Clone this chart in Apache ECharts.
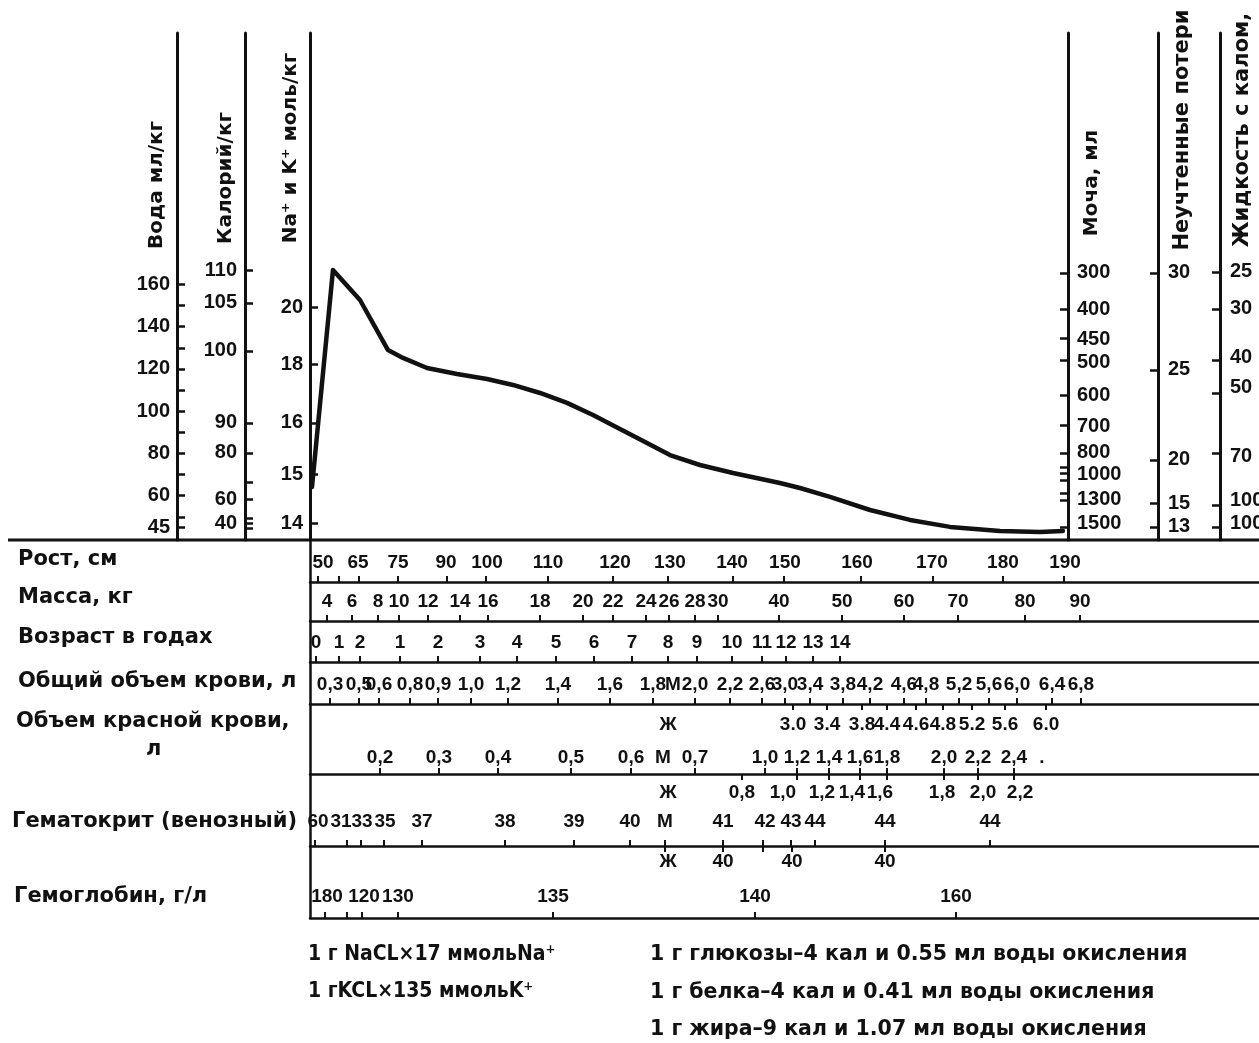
<!DOCTYPE html>
<html>
<head>
<meta charset="utf-8">
<script src="https://cdn.jsdelivr.net/npm/echarts@6/dist/echarts.min.js"></script>
<style>
  html, body { margin: 0; padding: 0; background: #fff; }
  #chart { width: 1259px; height: 1043px; }
</style>
</head>
<body>
<div id="chart"></div>
<script>
// ---------------- DATA ----------------
// Upper panel: reference linear scale "Вода мл/кг"
const waterLabels = [160, 140, 120, 100, 80, 60, 45];
const waterTicks = [160, 150, 140, 130, 120, 110, 100, 90, 80, 70, 60, 50, 45];

// Other vertical scales, each value given by its reading on the Вода scale
const calorieLabels = ['110', '105', '100', '90', '80', '60', '40'];
const calorieAtWater = [166.8, 151.2, 128.5, 94.4, 80.2, 58.4, 47.0];
const calorieMinorAtWater = [66.5, 49.4, 44.7];

const naLabels = ['20', '18', '16', '15', '14'];
const naAtWater = [149.3, 122.3, 94.4, 70.2, 47.0];

const urineLabels = ['300', '400', '450', '500', '600', '700', '800', '1000', '1300', '1500'];
const urineLabelAtWater = [165.4, 148.3, 134.1, 122.8, 107.6, 92.5, 80.2, 69.8, 58.4, 46.6];
const urineTickAtWater = [165.4, 148.3, 134.6, 124.2, 107.6, 93.4, 80.2, 73.6, 70.7, 67.4, 61.2, 57.9, 45.2];

const lossLabels = ['30', '25', '20', '15', '13'];
const lossAtWater = [165.4, 119.5, 76.9, 56.5, 45.2];

const stoolLabels = ['25', '30', '40', '50', '70', '100', '100'];
const stoolLabelAtWater = [165.9, 148.8, 125.2, 111.0, 78.3, 57.9, 47.0];
const stoolTickAtWater = [165.9, 148.3, 124.2, 108.6, 80.2, 55.6, 45.2];

// Curve: abscissa position (% of scale width) and reading on the Вода scale
const curveX = [0.21, 2.42, 5.27, 8.22, 9.80, 12.33, 15.49, 18.65, 21.39, 24.24, 27.08, 29.82, 32.66,
                35.51, 37.93, 41.09, 44.57, 49.52, 51.63, 54.79, 59.01, 63.22, 67.44, 72.71, 76.92, 79.34];
const curveY = [64.1, 166.8, 152.6, 128.9, 125.2, 120.4, 117.6, 115.2, 112.4, 108.6, 103.9, 98.2, 91.5,
                84.9, 79.2, 74.5, 70.7, 66.0, 63.6, 59.4, 53.2, 48.5, 45.2, 43.3, 42.8, 43.3];

// Horizontal scales (positions in % of scale width)
const heightLabels = ['50', '65', '75', '90', '100', '110', '120', '130', '140', '150', '160', '170', '180', '190'];
const heightLabelPos = [1.37, 5.06, 9.27, 14.33, 18.65, 25.08, 32.14, 37.93, 44.47, 50.05, 57.64, 65.54, 73.02, 79.56];
const heightTickPos = [0.84, 3.06, 5.16, 9.27, 14.44, 18.55, 25.08, 31.93, 37.72, 44.57, 49.95, 58.06, 65.65, 73.02, 79.45];

const massLabels = ['4', '6', '8', '10', '12', '14', '16', '18', '20', '22', '24', '26', '28', '30', '40', '50', '60', '70', '80', '90'];
const massPos = [1.79, 4.43, 7.17, 9.38, 12.43, 15.81, 18.76, 24.24, 28.77, 31.93, 35.41, 37.83, 40.57, 42.99, 49.42, 56.06, 62.59, 68.28, 75.34, 81.14];

const ageLabels = ['0', '1', '2', '1', '2', '3', '4', '5', '6', '7', '8', '9', '10', '11', '12', '13', '14'];
const agePos = [0.63, 3.06, 5.27, 9.48, 13.49, 17.91, 21.81, 25.92, 29.93, 33.93, 37.72, 40.78, 44.47, 47.63, 50.16, 53.0, 55.85];

const bloodLabels = ['0,3', '0,5', '0,6', '0,8', '0,9', '1,0', '1,2', '1,4', '1,6', '1,8', 'М', '2,0', '2,2', '2,6', '3,0', '3,4', '3,8', '4,2', '4,6', '4,8', '5,2', '5,6', '6,0', '6,4', '6,8'];
const bloodLabelPos = [2.11, 5.16, 7.27, 10.54, 13.49, 16.97, 20.86, 26.13, 31.61, 36.14, 38.25, 40.57, 44.26, 47.63, 50.05, 52.69, 56.16, 59.01, 62.59, 64.91, 68.39, 71.55, 74.50, 78.19, 81.24];
const bloodTickPos = [2.11, 5.16, 7.27, 10.54, 13.49, 16.97, 20.86, 26.13, 31.61, 36.14, 40.57, 44.26, 47.63, 50.05, 52.69, 56.16, 59.01, 62.59, 64.91, 68.39, 71.55, 74.50, 78.19, 81.24];

const redFLabels = ['Ж', '3.0', '3.4', '3.8', '4.4', '4.6', '4.8', '5.2', '5.6', '6.0'];
const redFLabelPos = [37.72, 50.90, 54.48, 58.17, 60.80, 63.86, 66.70, 69.76, 73.24, 77.56];
const redFTickPos = [50.90, 54.48, 58.17, 60.80, 63.86, 66.70, 69.76, 73.24, 77.56];

const redMLabels = ['0,2', '0,3', '0,4', '0,5', '0,6', 'М', '0,7', '1,0', '1,2', '1,4', '1,6', '1,8', '2,0', '2,2', '2,4', '.'];
const redMLabelPos = [7.38, 13.59, 19.81, 27.50, 33.83, 37.20, 40.57, 47.95, 51.32, 54.69, 57.96, 60.80, 66.81, 70.39, 74.18, 77.13];
const redMTickPos = [7.38, 13.59, 19.81, 27.50, 33.83, 40.57, 47.95, 51.32, 54.69, 57.96, 60.80, 66.81, 70.39, 74.18];

const hctFLabels = ['Ж', '0,8', '1,0', '1,2', '1,4', '1,6', '1,8', '2,0', '2,2'];
const hctFLabelPos = [37.72, 45.52, 49.84, 53.95, 57.11, 60.06, 66.60, 70.92, 74.82];
const hctFTickPos = [45.52, 51.32, 54.69, 57.96, 60.80, 66.81, 70.39, 74.18];

const hctMLabels = ['60', '31', '33', '35', '37', '38', '39', '40', 'М', '41', '42', '43', '44', '44', '44'];
const hctMLabelPos = [0.84, 3.27, 5.48, 7.90, 11.80, 20.55, 27.82, 33.72, 37.41, 43.52, 47.95, 50.69, 53.21, 60.59, 71.65];
const hctMTickPos = [0.53, 3.90, 5.37, 7.80, 11.80, 20.55, 27.82, 33.72, 37.41, 43.52, 47.73, 50.69, 53.21, 60.59, 71.65];

const hbFLabels = ['Ж', '40', '40', '40'];
const hbFLabelPos = [37.72, 43.52, 50.79, 60.59];
const hbFTickPos = [37.41, 43.52, 47.73, 50.79, 60.59];

const hbLabels = ['180', '120', '130', '135', '140', '160'];
const hbLabelPos = [1.79, 5.69, 9.27, 25.61, 46.89, 68.07];
const hbTickPos = [1.58, 3.90, 5.48, 9.27, 25.61, 46.89, 68.07];

const rowTitles = ['Рост, см', 'Масса, кг', 'Возраст в годах', 'Общий объем крови, л', 'Объем красной крови,', 'Гематокрит (венозный)', 'Гемоглобин, г/л'];
const axisTitlesLeft = ['Вода мл/кг', 'Калорий/кг', 'Na⁺ и K⁺ моль/кг'];
const axisTitlesRight = ['Моча, мл', 'Неучтенные потери', 'Жидкость с калом,'];
const notesLeft = ['1 г NaCL×17 ммольNa⁺', '1 гKCL×135 ммольK⁺'];
const notesRight = ['1 г глюкозы–4 кал и 0.55 мл воды окисления', '1 г белка–4 кал и 0.41 мл воды окисления', '1 г жира–9 кал и 1.07 мл воды окисления'];

// ---------------- LAYOUT / STYLE ----------------
const W = 1259, H = 1043;
const L = 310, GRAPH_R = 1068, GRAPH_TOP = 33, BASE = 540;
const rowLines = [540, 582, 621, 662, 704, 774, 846, 918];
const WATER_MIN = 39, WATER_MAX = 279;
const INK = '#111';
const NUMFONT = '"Liberation Sans",Arial,Helvetica,sans-serif';
const TITLEFONT = '"DejaVu Sans","Liberation Sans",sans-serif';
const CONDFONT = '"DejaVu Sans Condensed","Liberation Sans",sans-serif';
const ROW_NUM_SIZE = 19;
const V_NUM_SIZE = 20;

function lookup(labels, positions) {
  return function (v) {
    let best = 0, d = Infinity;
    positions.forEach((p, i) => { const dd = Math.abs(p - v); if (dd < d) { d = dd; best = i; } });
    return labels[best];
  };
}

function vAxis(position, offset, labels, labelPos, tickPos, margin) {
  return {
    type: 'value', gridIndex: 0, min: WATER_MIN, max: WATER_MAX, position: position, offset: offset,
    axisLine: { show: true, onZero: false, lineStyle: { color: INK, width: 3 } },
    axisTick: { show: true, inside: true, length: 8, customValues: tickPos, lineStyle: { color: INK, width: 2.5 } },
    axisLabel: { show: true, showMinLabel: true, showMaxLabel: true, customValues: labelPos,
      formatter: lookup(labels, labelPos), margin: margin,
      color: INK, fontFamily: NUMFONT, fontSize: V_NUM_SIZE, fontWeight: 'bold' },
    splitLine: { show: false }
  };
}

function hAxis(grid, position, labels, labelPos, tickPos, margin, showLine) {
  return {
    type: 'value', gridIndex: grid, min: 0, max: 100, position: position,
    axisLine: { show: showLine, onZero: false, lineStyle: { color: INK, width: 2.5 } },
    axisTick: { show: true, inside: true, length: 6, customValues: tickPos, lineStyle: { color: INK, width: 2 } },
    axisLabel: { show: true, inside: true, showMinLabel: true, showMaxLabel: true, margin: margin,
      verticalAlign: 'middle', customValues: labelPos,
      formatter: lookup(labels, labelPos), color: INK, fontFamily: NUMFONT, fontSize: ROW_NUM_SIZE, fontWeight: 'bold' },
    splitLine: { show: false }
  };
}

const gridBase = { containLabel: false, outerBoundsMode: 'none' };
const grids = [Object.assign({ left: L, right: W - GRAPH_R, top: GRAPH_TOP, bottom: H - BASE }, gridBase)];
for (let i = 0; i < 7; i++) {
  grids.push(Object.assign({ left: L, right: 0, top: rowLines[i], bottom: H - rowLines[i + 1] }, gridBase));
}

const xAxes = [
  { type: 'value', gridIndex: 0, min: 0, max: 100 * (GRAPH_R - L) / (W - L), show: false },
  hAxis(1, 'bottom', heightLabels, heightLabelPos, heightTickPos, 19, true),
  hAxis(2, 'bottom', massLabels, massPos, massPos, 19, true),
  hAxis(3, 'bottom', ageLabels, agePos, agePos, 19, true),
  hAxis(4, 'bottom', bloodLabels, bloodLabelPos, bloodTickPos, 19, true),
  hAxis(5, 'bottom', redMLabels, redMLabelPos, redMTickPos, 16, true),
  hAxis(6, 'bottom', hctMLabels, hctMLabelPos, hctMTickPos, 24, true),
  hAxis(7, 'bottom', hbLabels, hbLabelPos, hbTickPos, 21, true),
  hAxis(5, 'top', redFLabels, redFLabelPos, redFTickPos, 21, false),
  hAxis(6, 'top', hctFLabels, hctFLabelPos, hctFTickPos, 19, false),
  hAxis(7, 'top', hbFLabels, hbFLabelPos, hbFTickPos, 16, false)
];

const yAxes = [
  vAxis('left', L - 177, waterLabels.map(String), waterLabels, waterTicks, 7),
  vAxis('left', L - 245, calorieLabels, calorieAtWater, calorieAtWater.concat(calorieMinorAtWater), 8),
  vAxis('left', 0, naLabels, naAtWater, naAtWater, 7),
  vAxis('right', 0, urineLabels, urineLabelAtWater, urineTickAtWater, 9),
  vAxis('right', 1158 - GRAPH_R, lossLabels, lossAtWater, lossAtWater, 10),
  vAxis('right', 1220 - GRAPH_R, stoolLabels, stoolLabelAtWater, stoolTickAtWater, 10)
];
for (let i = 0; i < 7; i++) {
  yAxes.push({
    type: 'value', gridIndex: i + 1, min: 0, max: 1,
    axisLine: { show: true, onZero: false, lineStyle: { color: INK, width: 2.5 } },
    axisTick: { show: false }, axisLabel: { show: false }, splitLine: { show: false }
  });
}

function txt(text, x, y, opts) {
  opts = opts || {};
  return {
    type: 'text', x: x, y: y, rotation: opts.rot || 0, silent: true,
    style: { text: text, fill: INK, font: opts.font || ('bold 21px ' + TITLEFONT),
      align: opts.align || 'left', verticalAlign: 'middle' }
  };
}
const ROT = Math.PI / 2;
const graphic = [
  { type: 'line', silent: true, shape: { x1: 8, y1: BASE, x2: W, y2: BASE }, style: { stroke: INK, lineWidth: 3 } },
  txt(axisTitlesLeft[0], 157, 185, { rot: ROT, align: 'center', font: 'bold 20px ' + TITLEFONT }),
  txt(axisTitlesLeft[1], 226, 178, { rot: ROT, align: 'center', font: 'bold 20px ' + TITLEFONT }),
  txt(axisTitlesLeft[2], 291, 148, { rot: ROT, align: 'center', font: 'bold 20px ' + TITLEFONT }),
  txt(axisTitlesRight[0], 1092, 183, { rot: ROT, align: 'center', font: 'bold 20px ' + TITLEFONT }),
  txt(axisTitlesRight[1], 1183, 130, { rot: ROT, align: 'center' }),
  txt(axisTitlesRight[2], 1243, 130, { rot: ROT, align: 'center' }),
  txt(rowTitles[0], 18, 560),
  txt(rowTitles[1], 18, 598),
  txt(rowTitles[2], 18, 638),
  txt(rowTitles[3], 18, 682),
  txt(rowTitles[4], 16, 722),
  txt('л', 146, 750),
  txt(rowTitles[5], 12, 822),
  txt(rowTitles[6], 14, 897),
  txt(notesLeft[0], 308, 955, { font: 'bold 21px ' + CONDFONT }),
  txt(notesLeft[1], 308, 992, { font: 'bold 21px ' + CONDFONT }),
  txt(notesRight[0], 650, 955, { font: 'bold 20.5px ' + TITLEFONT }),
  txt(notesRight[1], 650, 993, { font: 'bold 20.5px ' + TITLEFONT }),
  txt(notesRight[2], 650, 1030, { font: 'bold 20.5px ' + TITLEFONT })
];

const option = {
  animation: false,
  backgroundColor: '#fff',
  grid: grids,
  xAxis: xAxes,
  yAxis: yAxes,
  series: [{
    type: 'line', xAxisIndex: 0, yAxisIndex: 0, symbol: 'none', smooth: false,
    lineStyle: { color: INK, width: 4.5, join: 'round', cap: 'round' },
    data: curveX.map((x, i) => [x, curveY[i]])
  }],
  graphic: graphic
};

const chart = echarts.init(document.getElementById('chart'), null, { renderer: 'canvas' });
chart.setOption(option);
</script>
</body>
</html>
